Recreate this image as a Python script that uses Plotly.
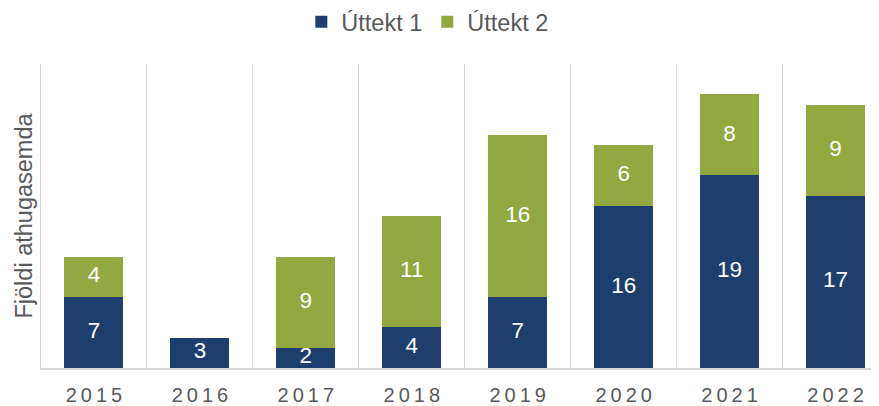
import plotly.graph_objects as go

years = ["2015", "2016", "2017", "2018", "2019", "2020", "2021", "2022"]
uttekt1 = [7, 3, 2, 4, 7, 16, 19, 17]
uttekt2 = [4, None, 9, 11, 16, 6, 8, 9]
series_names = ["Úttekt 1", "Úttekt 2"]
colors = ["#1E3F6E", "#93A840"]
tick_labels = ["\u2009".join(y) for y in years]

FONT = "Liberation Sans, Arial, sans-serif"
GRID = "#D9D9D9"
TXT = "#595959"

fig = go.Figure()
fig.add_trace(go.Bar(x=years, y=uttekt1, name=series_names[0], marker_color=colors[0],
                     marker_line_width=0, width=0.557))
fig.add_trace(go.Bar(x=years, y=uttekt2, name=series_names[1], marker_color=colors[1],
                     marker_line_width=0, width=0.557))

# data labels centred in each segment
mid1 = [v / 2 for v in uttekt1]
mid2 = [a + b / 2 if b is not None else None for a, b in zip(uttekt1, uttekt2)]
txt2 = [str(b) if b is not None else "" for b in uttekt2]
fig.add_trace(go.Scatter(x=years, y=mid1, mode="text", text=[str(v) for v in uttekt1],
                         textfont=dict(family=FONT, size=22.5, color="white"),
                         showlegend=False, hoverinfo="skip"))
fig.add_trace(go.Scatter(x=years, y=mid2, mode="text", text=txt2,
                         textfont=dict(family=FONT, size=22.5, color="white"),
                         showlegend=False, hoverinfo="skip"))

# page body has an 8px default margin, so the figure is sized to fill the rest
fig.update_layout(
    width=871, height=398,
    barmode="stack",
    plot_bgcolor="white", paper_bgcolor="white",
    margin=dict(l=33, r=0, t=56, b=37.5, autoexpand=False),
    font=dict(family=FONT, color=TXT),
    legend=dict(orientation="h", x=0.461, xanchor="center", y=1.138, yanchor="middle",
                font=dict(size=23.5, color=TXT), traceorder="normal"),
    xaxis=dict(
        type="category", range=[-0.5, 7.41],
        tickvals=years, ticktext=tick_labels,
        tickson="boundaries", ticks="",
        showgrid=True, gridcolor=GRID, gridwidth=1.4,
        showline=True, linecolor=GRID, linewidth=2,
        tickfont=dict(size=20, color=TXT), ticklabelstandoff=8,
        automargin=False, fixedrange=True,
    ),
    yaxis=dict(
        range=[0, 30], showgrid=False, zeroline=False,
        showticklabels=False, ticks="",
        showline=True, linecolor=GRID, linewidth=1.4,
        automargin=False,
        title=dict(text="Fjöldi athugasemda", font=dict(size=23.5, color=TXT), standoff=0),
    ),
)

fig.write_html("out.html")
